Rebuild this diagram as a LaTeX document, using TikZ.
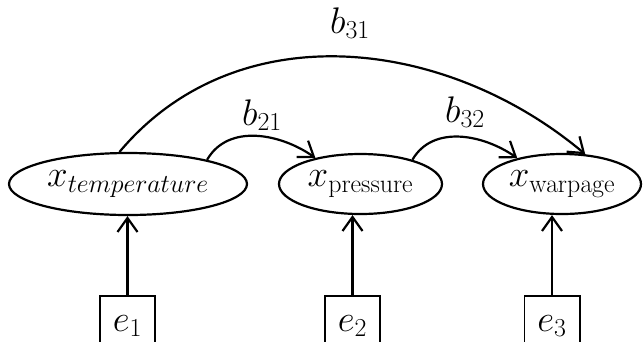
\RequirePackage{fix-cm}
\documentclass[tikz,border=0pt]{standalone}
\usetikzlibrary{arrows.meta,shapes.geometric}
\begin{document}
\begin{tikzpicture}[x=1pt,y=1pt,
  var/.style={draw,ellipse,line width=2.2pt,inner sep=0pt,font=\fontsize{37}{44}\selectfont},
  errbox/.style={rectangle,anchor=north,inner xsep=0pt,inner ysep=0pt,
     text height=35pt,text depth=9pt,minimum width=55pt,font=\fontsize{37}{44}\selectfont},
  boxline/.style={line width=1.6pt},
  link/.style={line width=2.2pt,-{Straight Barb[length=14pt,width=20pt,line width=2.2pt]}},
  coef/.style={anchor=base,inner sep=0pt,font=\fontsize{37}{44}\selectfont}
]
\path[use as bounding box,clip] (0,0) rectangle (644,-341);
\node[var,minimum width=238pt,minimum height=62pt] (t) at (128,-184) {$x_{temperature}$};
\node[var,minimum width=163pt,minimum height=60pt] (p) at (360.5,-184) {$x_{\mathrm{pressure}}$};
\node[var,minimum width=158pt,minimum height=60pt] (w) at (562,-184) {$x_{\mathrm{warpage}}$};
\node[errbox] (e1) at (127.5,-296) {$e_1$};
\node[errbox] (e2) at (352.5,-296) {$e_2$};
\node[errbox] (e3) at (552,-296) {$e_3$};
\foreach \b in {e1,e2,e3}
  \draw[boxline] ([yshift=-4pt]\b.south west) -- (\b.north west) -- (\b.north east) -- ([yshift=-4pt]\b.south east);
\draw[link] (e1.north) -- (e1.north |- t.south);
\draw[link] (e2.north) -- (e2.north |- p.south);
\draw[link] (e3.north) -- (e3.north |- w.south);
\draw[link] (t.17) to[out=60,in=145] (p.150);
\draw[link] (p.25) to[out=60,in=145] (w.150);
\draw[link] (t.105) to[out=50,in=140] (w.52);
\node[coef] (l21) at (262,-125) {$b_{21}$};
\node[coef] (l32) at (465,-122) {$b_{32}$};
\node[coef] (l31) at (350,-33) {$b_{31}$};
\end{tikzpicture}
\end{document}
